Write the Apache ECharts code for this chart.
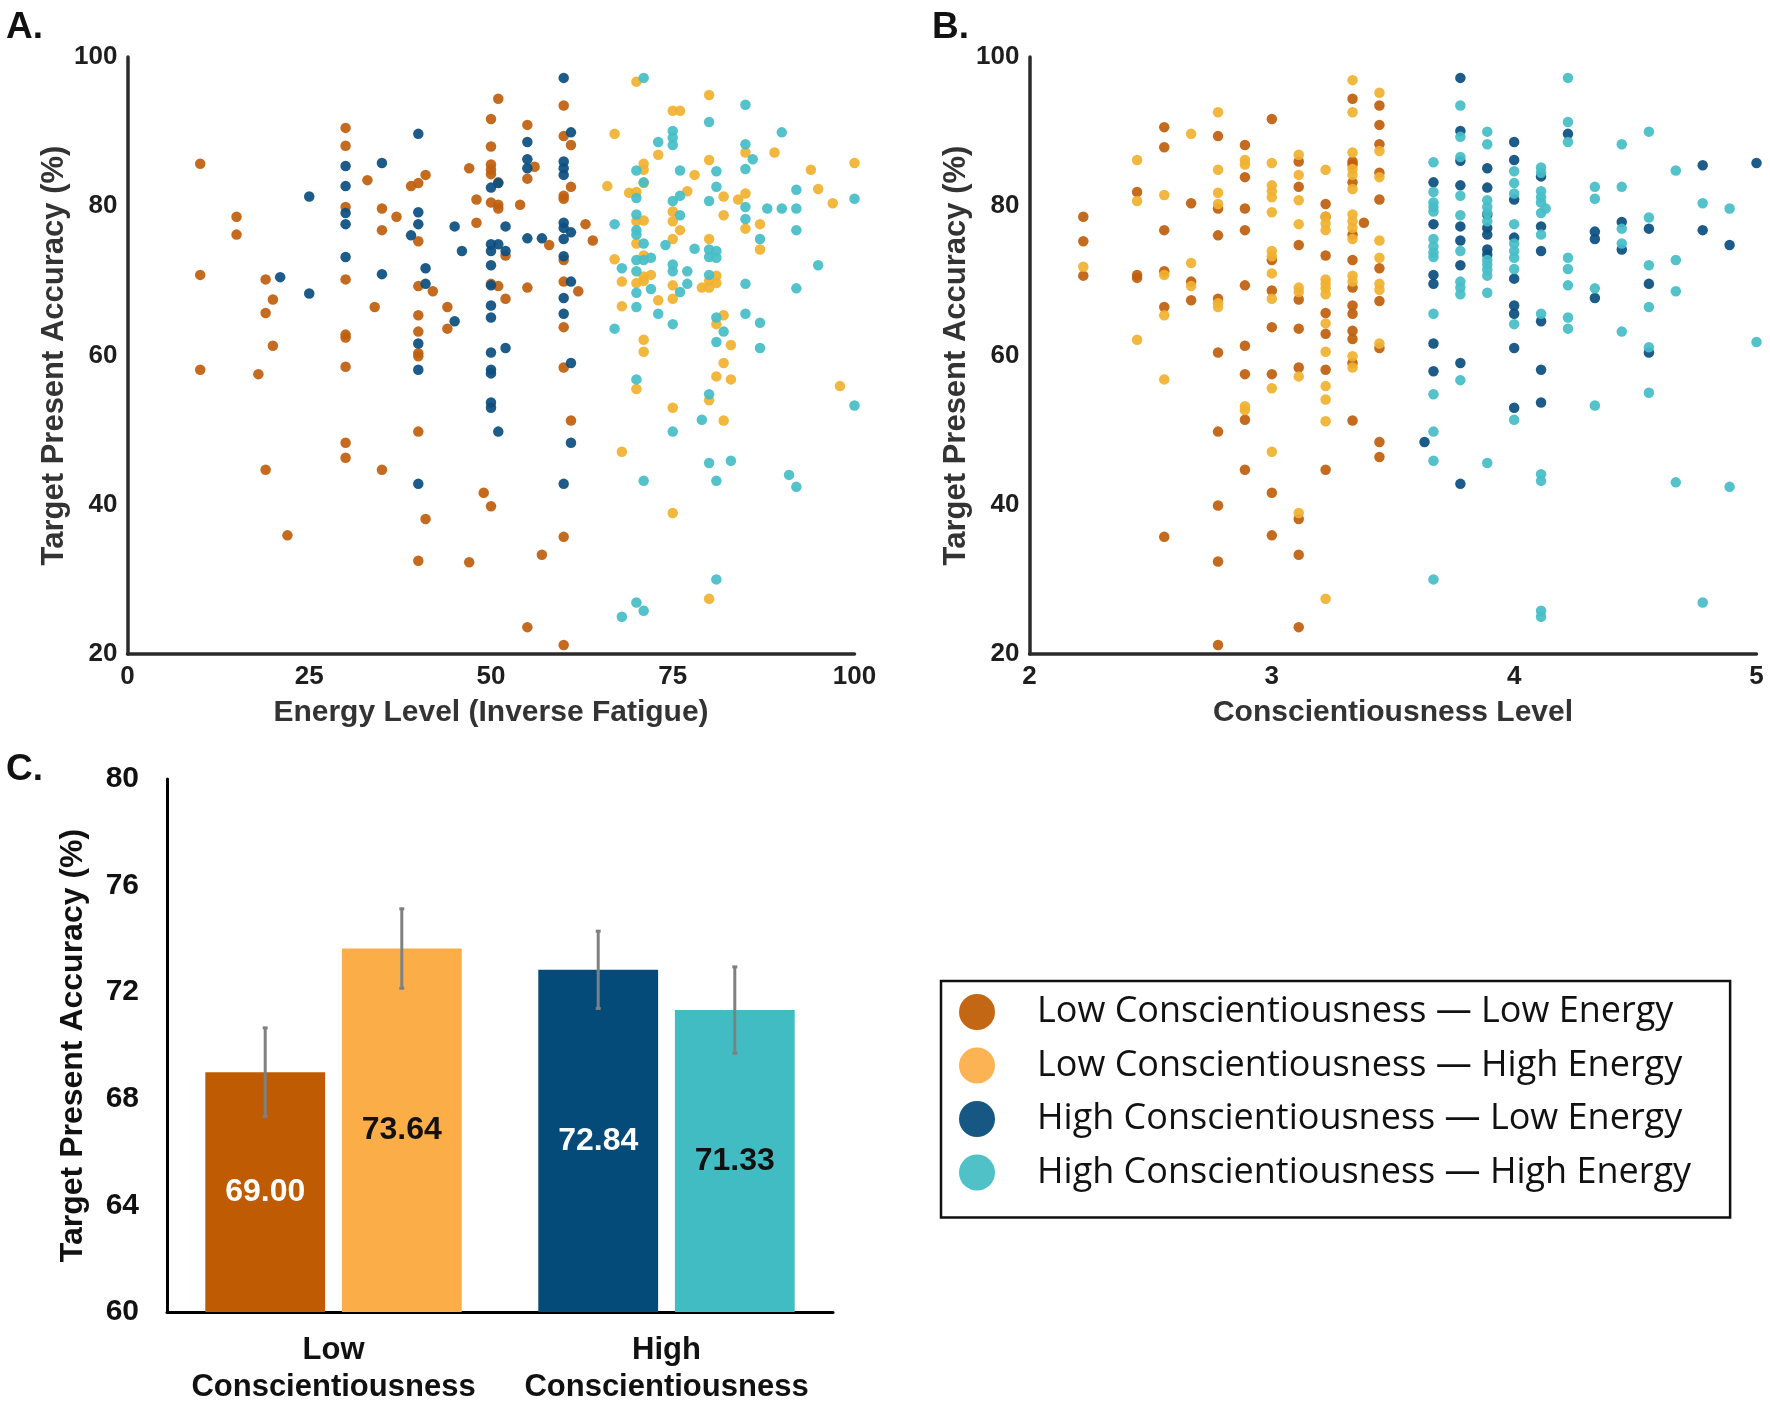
<!DOCTYPE html>
<html>
<head>
<meta charset="utf-8">
<script src="https://cdn.jsdelivr.net/npm/echarts@6/dist/echarts.min.js"></script>
<style>
  html, body { margin: 0; padding: 0; background: #ffffff; }
  #chart { width: 1770px; height: 1406px; }
</style>
</head>
<body>
<div id="chart"></div>
<script>
// ---------------- DATA ----------------
const groupNames = [
  'Low Conscientiousness \u2014 Low Energy',
  'Low Conscientiousness \u2014 High Energy',
  'High Conscientiousness \u2014 Low Energy',
  'High Conscientiousness \u2014 High Energy'
];

// Panel A: [energy level, target present accuracy]
const energyLowCLowE = [
  [10,85.7],[10,70.8],[10,58.1],[15,78.6],[15,76.2],[19,70.2],[19,65.7],[19,44.7],[20,67.5],[20,61.3],
  [18,57.5],[22,35.9],[30,90.5],[30,88.1],[30,79.9],[30,70.2],[30,62.8],[30,62.4],[30,58.5],[30,48.3],
  [30,46.3],[33,83.5],[35,79.7],[35,76.8],[35,44.7],[34,66.5],[37,78.6],[39,82.7],[40,83.1],[40,75.3],
  [40,69.3],[40,65.4],[40,63.2],[40,60.3],[40,59.9],[40,49.8],[40,32.5],[41,84.2],[41,38.1],[42,68.6],
  [44,66.5],[44,63.6],[47,85.1],[47,32.3],[48,80.9],[48,77.8],[49,41.6],[50,91.7],[50,88.0],[50,85.6],
  [50,84.9],[50,84.3],[50,80.5],[50,69.6],[50,39.8],[51,94.4],[51,83.2],[51,80.2],[51,79.7],[51,69.3],
  [52,73.4],[52,67.6],[54,80.2],[55,90.9],[55,83.7],[55,69.1],[55,23.6],[56,85.3],[57,33.3],[58,74.8],
  [60,93.5],[60,89.4],[60,81.4],[60,81.0],[60,72.8],[60,69.9],[60,63.8],[60,58.4],[60,35.7],[60,21.2],
  [61,88.2],[61,82.6],[61,51.3],[62,68.6],[63,77.6],[64,75.4]
];
const energyHighCLowE = [
  [21,70.5],[25,81.3],[25,68.3],[30,85.4],[30,82.7],[30,79.1],[30,77.6],[30,73.2],[35,85.8],[35,70.9],
  [39,76.1],[40,89.7],[40,79.2],[40,77.6],[40,61.6],[40,58.1],[40,42.8],[41,71.7],[41,69.6],[45,77.3],
  [45,64.6],[46,74.0],[50,82.5],[50,74.9],[50,74.0],[50,72.1],[50,69.4],[50,66.7],[50,65.1],[50,60.4],
  [50,58.1],[50,57.6],[50,53.7],[50,53.0],[51,83.1],[51,74.9],[51,49.8],[52,77.3],[52,74.0],[52,61.0],
  [55,88.6],[55,86.3],[55,85.1],[55,75.7],[57,75.7],[60,97.2],[60,86.0],[60,85.1],[60,84.2],[60,77.8],
  [60,77.1],[60,75.6],[60,73.3],[60,67.7],[60,65.6],[60,42.8],[61,89.9],[61,76.5],[61,69.9],[61,59.0],
  [61,48.3]
];
const energyLowCHighE = [
  [66,82.7],[67,89.7],[67,72.9],[68,69.9],[68,66.6],[68,47.1],[69,81.8],[70,96.7],[70,81.9],[70,78.0],
  [70,75.0],[70,69.7],[70,55.5],[71,85.7],[71,84.9],[71,83.1],[71,78.1],[71,73.4],[71,70.6],[71,70.0],
  [71,62.1],[71,60.5],[72,70.8],[73,86.9],[73,67.4],[75,92.8],[75,79.3],[75,78.0],[75,75.6],[75,69.4],
  [75,67.6],[75,53.0],[75,38.9],[76,92.8],[76,76.8],[77,82.0],[78,84.2],[79,69.1],[80,94.9],[80,86.2],
  [80,75.6],[80,70.0],[80,69.1],[80,54.0],[80,27.4],[81,70.7],[81,69.7],[81,64.2],[81,57.2],[82,81.3],
  [82,78.8],[82,65.4],[82,59.0],[82,51.3],[83,61.4],[83,56.8],[84,80.9],[85,87.2],[85,81.7],[85,77.0],
  [87,77.6],[87,74.2],[89,87.2],[94,84.9],[95,82.3],[97,80.4],[98,55.9],[100,85.8]
];
const energyHighCHighE = [
  [67,77.6],[67,63.6],[68,71.7],[68,25.0],[70,84.8],[70,81.1],[70,78.9],[70,76.8],[70,76.2],[70,72.8],
  [70,71.3],[70,68.4],[70,66.5],[70,56.8],[70,26.9],[71,97.2],[71,83.2],[71,75.0],[71,72.8],[71,43.2],
  [71,25.8],[72,73.1],[72,68.9],[73,88.6],[73,65.6],[74,74.8],[75,90.1],[75,89.2],[75,88.2],[75,80.7],
  [75,72.2],[75,71.3],[75,64.2],[75,49.8],[76,84.8],[76,81.4],[76,78.8],[76,68.5],[77,71.3],[77,69.6],
  [78,74.3],[79,51.4],[80,91.3],[80,80.7],[80,74.2],[80,73.2],[80,70.8],[80,54.8],[80,45.6],[81,84.7],
  [81,82.6],[81,74.0],[81,73.1],[81,65.1],[81,61.8],[81,43.2],[81,30.0],[82,63.2],[83,45.9],[85,93.6],
  [85,88.3],[85,85.0],[85,79.9],[85,78.3],[85,69.6],[85,65.6],[86,86.3],[87,75.6],[87,64.4],[87,61.0],
  [88,79.7],[90,89.9],[90,79.7],[91,44.0],[92,82.2],[92,79.7],[92,76.8],[92,69.0],[92,42.4],[95,72.1],
  [100,81.0],[100,53.3]
];

// Panel B: [conscientiousness level, target present accuracy]
const conscLowCLowE = [
  [2.222,78.6],[2.222,75.3],[2.222,70.7],[2.444,81.9],[2.444,70.8],[2.444,70.4],[2.556,90.6],[2.556,87.9],
  [2.556,76.8],[2.556,71.3],[2.556,66.5],[2.556,35.7],[2.667,80.4],[2.667,69.9],[2.667,67.4],[2.778,89.4],
  [2.778,79.7],[2.778,76.1],[2.778,67.6],[2.778,60.4],[2.778,49.8],[2.778,39.9],[2.778,32.4],[2.778,21.2],
  [2.889,88.2],[2.889,83.9],[2.889,79.7],[2.889,76.8],[2.889,69.4],[2.889,61.3],[2.889,57.5],[2.889,51.4],
  [2.889,44.7],[3.0,91.7],[3.0,72.8],[3.0,68.7],[3.0,63.8],[3.0,57.5],[3.0,41.6],[3.0,35.9],
  [3.111,86.0],[3.111,82.6],[3.111,74.8],[3.111,67.5],[3.111,63.6],[3.111,58.4],[3.111,38.1],[3.111,33.3],
  [3.111,23.6],[3.222,80.3],[3.222,78.6],[3.222,73.4],[3.222,65.7],[3.222,62.9],[3.222,58.1],[3.222,44.7],
  [3.333,94.4],[3.333,86.0],[3.333,85.6],[3.333,83.2],[3.333,76.2],[3.333,72.8],[3.333,69.1],[3.333,66.7],
  [3.333,65.6],[3.333,63.3],[3.333,62.2],[3.333,59.0],[3.333,51.3],[3.38,77.8],[3.444,93.5],[3.444,90.9],
  [3.444,88.3],[3.444,84.5],[3.444,80.9],[3.444,71.7],[3.444,67.3],[3.444,61.0],[3.444,48.4],[3.444,46.4]
];
const conscLowCHighE = [
  [2.222,71.9],[2.444,86.2],[2.444,80.7],[2.444,62.1],[2.556,81.5],[2.556,70.8],[2.556,65.4],[2.556,56.8],
  [2.667,89.7],[2.667,72.4],[2.667,69.3],[2.778,92.6],[2.778,84.9],[2.778,81.8],[2.778,80.3],[2.778,67.0],
  [2.778,66.5],[2.889,86.2],[2.889,85.6],[2.889,53.2],[2.889,52.7],[3.0,85.8],[3.0,82.8],[3.0,82.0],
  [3.0,81.2],[3.0,79.2],[3.0,74.0],[3.0,73.3],[3.0,71.0],[3.0,67.6],[3.0,55.6],[3.0,47.1],
  [3.111,86.9],[3.111,84.2],[3.111,80.8],[3.111,77.6],[3.111,69.1],[3.111,68.5],[3.111,57.2],[3.111,38.9],
  [3.222,84.9],[3.222,78.6],[3.222,77.7],[3.222,76.8],[3.222,70.2],[3.222,69.6],[3.222,69.0],[3.222,68.2],
  [3.222,64.3],[3.222,60.5],[3.222,55.9],[3.222,54.1],[3.222,51.2],[3.222,27.4],[3.333,96.9],[3.333,92.6],
  [3.333,87.2],[3.333,85.0],[3.333,84.2],[3.333,82.3],[3.333,78.9],[3.333,78.0],[3.333,77.1],[3.333,75.6],
  [3.333,70.7],[3.333,69.9],[3.333,59.9],[3.333,58.4],[3.444,95.2],[3.444,87.4],[3.444,83.9],[3.444,75.4],
  [3.444,73.1],[3.444,69.6],[3.444,68.8],[3.444,61.6]
];
const conscHighCLowE = [
  [3.63,48.4],[3.667,83.2],[3.667,77.6],[3.667,70.8],[3.667,69.6],[3.667,61.6],[3.667,57.9],[3.778,97.2],
  [3.778,90.1],[3.778,86.1],[3.778,82.8],[3.778,77.3],[3.778,75.4],[3.778,72.1],[3.778,59.0],[3.778,42.8],
  [3.889,85.1],[3.889,82.5],[3.889,78.9],[3.889,77.1],[3.889,76.2],[3.889,74.2],[3.889,73.5],[4.0,88.6],
  [4.0,86.2],[4.0,80.9],[4.0,75.8],[4.0,70.3],[4.0,66.7],[4.0,65.6],[4.0,61.0],[4.0,53.0],
  [4.111,84.0],[4.111,77.3],[4.111,74.0],[4.111,64.6],[4.111,58.1],[4.111,53.7],[4.222,89.7],[4.333,76.6],
  [4.333,75.6],[4.333,67.7],[4.444,77.9],[4.444,74.2],[4.556,77.0],[4.556,69.6],[4.556,60.4],[4.778,85.5],
  [4.778,76.8],[4.889,74.8],[5.0,85.8]
];
const conscHighCHighE = [
  [3.667,85.9],[3.667,81.9],[3.667,80.5],[3.667,79.9],[3.667,79.3],[3.667,75.6],[3.667,74.6],[3.667,73.8],
  [3.667,73.2],[3.667,65.6],[3.667,54.8],[3.667,49.8],[3.667,45.9],[3.667,30.0],[3.778,93.5],[3.778,89.3],
  [3.778,86.6],[3.778,81.4],[3.778,78.8],[3.778,74.0],[3.778,69.9],[3.778,69.1],[3.778,68.2],[3.778,56.7],
  [3.889,90.0],[3.889,88.3],[3.889,80.8],[3.889,79.9],[3.889,79.1],[3.889,78.0],[3.889,72.8],[3.889,72.2],
  [3.889,71.5],[3.889,70.7],[3.889,68.4],[3.889,45.6],[4.0,84.7],[4.0,83.1],[4.0,81.7],[4.0,77.6],
  [4.0,75.0],[4.0,74.0],[4.0,73.1],[4.0,71.6],[4.0,64.2],[4.0,51.4],[4.111,85.2],[4.111,84.5],
  [4.111,82.0],[4.111,81.2],[4.111,80.5],[4.111,79.1],[4.111,76.2],[4.111,65.6],[4.111,44.1],[4.111,43.2],
  [4.111,25.8],[4.111,25.0],[4.13,79.7],[4.222,97.2],[4.222,91.3],[4.222,88.6],[4.222,73.1],[4.222,71.6],
  [4.222,69.4],[4.222,65.1],[4.222,63.6],[4.333,82.6],[4.333,81.0],[4.333,69.0],[4.333,53.3],[4.444,88.3],
  [4.444,82.6],[4.444,77.0],[4.444,75.0],[4.444,63.2],[4.556,90.0],[4.556,78.5],[4.556,72.1],[4.556,66.5],
  [4.556,61.1],[4.556,55.0],[4.667,84.8],[4.667,72.8],[4.667,68.6],[4.667,43.0],[4.778,80.4],[4.778,26.9],
  [4.889,79.7],[4.889,42.4],[5.0,61.8]
];

// Panel C
const barCategories = ['Low\nConscientiousness', 'High\nConscientiousness'];
const lowEnergyMeans = [69.00, 72.84];
const highEnergyMeans = [73.64, 71.33];
const lowEnergyErr = [1.66, 1.45];
const highEnergyErr = [1.49, 1.62];

// ---------------- STYLE ----------------
const scatterColors = ['#C0600E', '#F0B12F', '#0C4F80', '#46BDC7'];
const barColors = ['#BF5B02', '#FBAD47', '#044B7A', '#42BCC3'];
const lowEnergyBarColors = [barColors[0], barColors[2]];
const highEnergyBarColors = [barColors[1], barColors[3]];
const lowEnergyLabelColors = ['#ffffff', '#ffffff'];
const highEnergyLabelColors = ['#111111', '#111111'];

const FONT = 'Liberation Sans, Arial, sans-serif';
const BAR_CAT_GAP = 0.23, BAR_GAP = 0.14;

function sciAxisCommon(extra) {
  return Object.assign({
    type: 'value',
    axisLine: { show: true, onZero: false, lineStyle: { color: '#2b2b2b', width: 3.5 } },
    axisTick: { show: false },
    splitLine: { show: false },
    axisLabel: { fontSize: 26, fontWeight: 'bold', color: '#1e1e1e', fontFamily: FONT },
    nameLocation: 'middle',
    nameTextStyle: { fontSize: 30, fontWeight: 'bold', color: '#333333', fontFamily: FONT }
  }, extra);
}

function scatter(name, data, gi, color) {
  return {
    type: 'scatter', name: name, data: data,
    xAxisIndex: gi, yAxisIndex: gi,
    symbolSize: 10.5,
    itemStyle: { color: color, opacity: 0.93 },
    emphasis: { disabled: true }
  };
}

function barData(values, colors, labelColors) {
  return values.map((v, i) => ({
    value: v,
    itemStyle: { color: colors[i] },
    label: { color: labelColors[i] }
  }));
}

const errData = [];
lowEnergyMeans.forEach((m, i) => errData.push([i, m, lowEnergyErr[i], 0]));
highEnergyMeans.forEach((m, i) => errData.push([i, m, highEnergyErr[i], 1]));

const option = {
  backgroundColor: '#ffffff',
  animation: false,
  title: [
    { text: 'A.', left: 1, top: 4, textStyle: { fontSize: 37, fontWeight: 'bold', color: '#111', fontFamily: FONT } },
    { text: 'B.', left: 927, top: 4, textStyle: { fontSize: 37, fontWeight: 'bold', color: '#111', fontFamily: FONT } },
    { text: 'C.', left: 1, top: 746, textStyle: { fontSize: 37, fontWeight: 'bold', color: '#111', fontFamily: FONT } }
  ],
  grid: [
    { left: 127.5, top: 57, width: 727, height: 597 },
    { left: 1029.5, top: 57, width: 727, height: 597 },
    { left: 167, top: 779, width: 666, height: 536 }
  ],
  xAxis: [
    sciAxisCommon({ gridIndex: 0, min: 0, max: 100, interval: 25,
      name: 'Energy Level (Inverse Fatigue)', nameGap: 44,
      axisLabel: { fontSize: 26, fontWeight: 'bold', color: '#1e1e1e', fontFamily: FONT, margin: 10 } }),
    sciAxisCommon({ gridIndex: 1, min: 2, max: 5, interval: 1,
      name: 'Conscientiousness Level', nameGap: 44,
      axisLabel: { fontSize: 26, fontWeight: 'bold', color: '#1e1e1e', fontFamily: FONT, margin: 10 } }),
    {
      gridIndex: 2, type: 'category', data: barCategories,
      axisLine: { show: true, lineStyle: { color: '#000', width: 3 } },
      axisTick: { show: false },
      axisLabel: { interval: 0, hideOverlap: false, fontSize: 31, fontWeight: 'bold', color: '#111',
        fontFamily: FONT, margin: 20, lineHeight: 37 }
    }
  ],
  yAxis: [
    sciAxisCommon({ gridIndex: 0, min: 20, max: 100, interval: 20,
      name: 'Target Present Accuracy (%)', nameGap: 56,
      nameTextStyle: { fontSize: 31, fontWeight: 'bold', color: '#333333', fontFamily: FONT },
      axisLabel: { fontSize: 26, fontWeight: 'bold', color: '#1e1e1e', fontFamily: FONT, margin: 10 } }),
    sciAxisCommon({ gridIndex: 1, min: 20, max: 100, interval: 20,
      name: 'Target Present Accuracy (%)', nameGap: 58,
      nameTextStyle: { fontSize: 31, fontWeight: 'bold', color: '#333333', fontFamily: FONT },
      axisLabel: { fontSize: 26, fontWeight: 'bold', color: '#1e1e1e', fontFamily: FONT, margin: 10 } }),
    {
      gridIndex: 2, type: 'value', min: 60, max: 80, interval: 4,
      axisLine: { show: true, onZero: false, lineStyle: { color: '#000', width: 3 } },
      axisTick: { show: false },
      splitLine: { show: false },
      axisLabel: { fontSize: 30, fontWeight: 'bold', color: '#111', fontFamily: FONT, margin: 28 },
      name: 'Target Present Accuracy (%)', nameLocation: 'middle', nameGap: 78,
      nameTextStyle: { fontSize: 32, fontWeight: 'bold', color: '#111', fontFamily: FONT }
    }
  ],
  legend: {
    orient: 'vertical',
    left: 941, top: 981,
    data: groupNames.map((n, i) => ({ name: n, itemStyle: { color: barColors[i] } })),
    icon: 'circle',
    itemWidth: 36, itemHeight: 36, itemGap: 17.5,
    padding: [13, 39, 27, 18],
    borderColor: '#111', borderWidth: 2.5, borderRadius: 0,
    selectedMode: false,
    textStyle: { fontFamily: 'Open Sans, Noto Sans, sans-serif', fontSize: 36, color: '#111',
      lineHeight: 36, padding: [0, 0, 0, 37] }
  },
  series: [
    scatter(groupNames[0], energyLowCLowE, 0, scatterColors[0]),
    scatter(groupNames[2], energyHighCLowE, 0, scatterColors[2]),
    scatter(groupNames[1], energyLowCHighE, 0, scatterColors[1]),
    scatter(groupNames[3], energyHighCHighE, 0, scatterColors[3]),
    scatter(groupNames[0], conscLowCLowE, 1, scatterColors[0]),
    scatter(groupNames[1], conscLowCHighE, 1, scatterColors[1]),
    scatter(groupNames[2], conscHighCLowE, 1, scatterColors[2]),
    scatter(groupNames[3], conscHighCHighE, 1, scatterColors[3]),
    {
      type: 'bar', name: 'Low Energy', xAxisIndex: 2, yAxisIndex: 2,
      data: barData(lowEnergyMeans, lowEnergyBarColors, lowEnergyLabelColors),
      barGap: (BAR_GAP * 100) + '%', barCategoryGap: (BAR_CAT_GAP * 100) + '%',
      label: { show: true, position: 'inside', fontSize: 32, fontWeight: 'bold', fontFamily: FONT,
        formatter: p => p.value.toFixed(2) },
      emphasis: { disabled: true }
    },
    {
      type: 'bar', name: 'High Energy', xAxisIndex: 2, yAxisIndex: 2,
      data: barData(highEnergyMeans, highEnergyBarColors, highEnergyLabelColors),
      barGap: (BAR_GAP * 100) + '%', barCategoryGap: (BAR_CAT_GAP * 100) + '%',
      label: { show: true, position: 'inside', fontSize: 32, fontWeight: 'bold', fontFamily: FONT,
        formatter: p => p.value.toFixed(2) },
      emphasis: { disabled: true }
    },
    {
      type: 'custom', name: 'error', xAxisIndex: 2, yAxisIndex: 2, z: 10,
      data: errData,
      encode: { x: 0, y: 1 },
      renderItem: function (params, api) {
        const ci = api.value(0), m = api.value(1), e = api.value(2), g = api.value(3);
        const band = api.size([1, 0])[0];
        const bw = band * (1 - BAR_CAT_GAP) / (2 + BAR_GAP);
        const off = (g === 0 ? -1 : 1) * (bw * (1 + BAR_GAP)) / 2;
        const top = api.coord([ci, m + e]);
        const bot = api.coord([ci, m - e]);
        const x = top[0] + off;
        const st = { stroke: '#808080', lineWidth: 3 };
        return {
          type: 'group',
          children: [
            { type: 'line', shape: { x1: x, y1: top[1], x2: x, y2: bot[1] }, style: st },
            { type: 'line', shape: { x1: x - 2.5, y1: top[1], x2: x + 2.5, y2: top[1] }, style: st },
            { type: 'line', shape: { x1: x - 2.5, y1: bot[1], x2: x + 2.5, y2: bot[1] }, style: st }
          ]
        };
      }
    }
  ]
};

const chart = echarts.init(document.getElementById('chart'), null, { renderer: 'canvas' });
chart.setOption(option);
</script>
</body>
</html>
